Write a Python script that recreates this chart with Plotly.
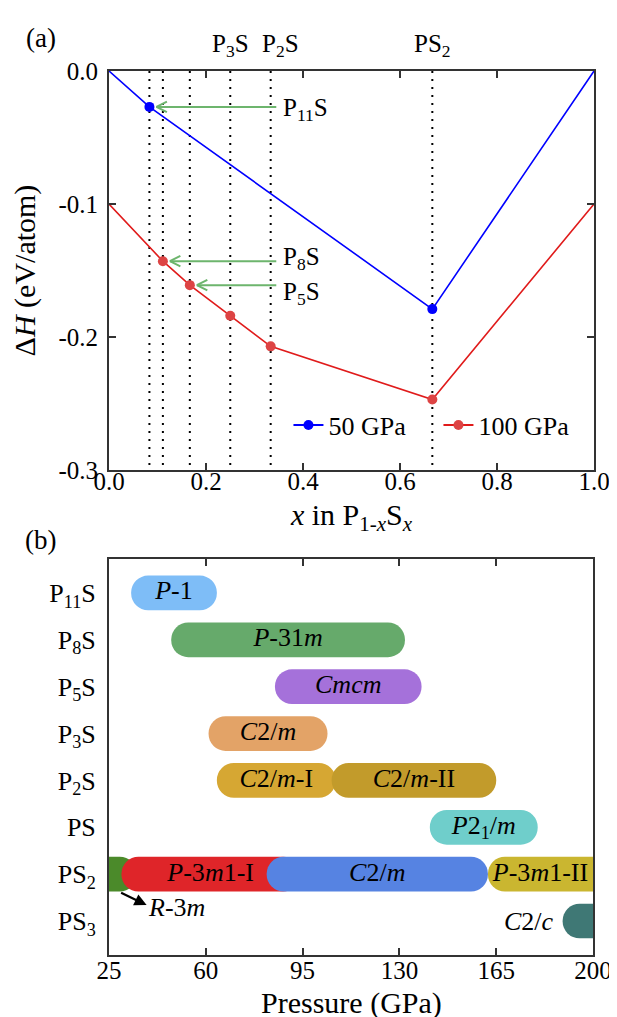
import plotly.graph_objects as go

# ---------------- data: panel (a) ----------------
x_ticks_a = [0.0, 0.2, 0.4, 0.6, 0.8, 1.0]
x_ticktext_a = ["0.0", "0.2", "0.4", "0.6", "0.8", "1.0"]
y_ticks_a = [0.0, -0.1, -0.2, -0.3]
y_ticktext_a = ["0.0", "-0.1", "-0.2", "-0.3"]

x_50 = [0.0, 1/12, 2/3, 1.0]
y_50 = [0.0, -0.027, -0.179, 0.0]
x_50_stable = [1/12, 2/3]
y_50_stable = [-0.027, -0.179]

x_100 = [0.0, 1/9, 1/6, 1/4, 1/3, 2/3, 1.0]
y_100 = [-0.100, -0.143, -0.161, -0.184, -0.207, -0.247, -0.100]
x_100_stable = [1/9, 1/6, 1/4, 1/3, 2/3]
y_100_stable = [-0.143, -0.161, -0.184, -0.207, -0.247]

comp_lines = [1/12, 1/9, 1/6, 1/4, 1/3, 2/3]
top_labels = ["P<sub>3</sub>S", "P<sub>2</sub>S", "PS<sub>2</sub>"]
top_label_x = [1/4, 1/3, 2/3]
top_label_shift = [0, 10, 0]

arrow_labels = ["P<sub>11</sub>S", "P<sub>8</sub>S", "P<sub>5</sub>S"]
arrow_x = [1/12, 1/9, 1/6]
arrow_y = [-0.027, -0.143, -0.161]
arrow_label_shift = [-3, 3, -8]
arrow_tail_x = 0.348

# ---------------- data: panel (b) ----------------
rows = ["P<sub>11</sub>S", "P<sub>8</sub>S", "P<sub>5</sub>S", "P<sub>3</sub>S",
        "P<sub>2</sub>S", "PS", "PS<sub>2</sub>", "PS<sub>3</sub>"]
p_ticks = [25, 60, 95, 130, 165, 200]

phase_row = [0, 1, 2, 3, 4, 4, 5, 6, 6, 6, 6, 7]
phase_start = [33, 47.5, 85, 61, 64, 105.5, 141, 10, 29.5, 82, 162, 189]
phase_end = [64, 132, 138, 104, 107, 165, 180, 35, 94, 162, 215, 215]
phase_color = ["#7ebdf7", "#66aa6b", "#a571da", "#e3a367", "#d6a733", "#c29b2b",
               "#6fcecb", "#4b8a2a", "#df2529", "#5683e2", "#cab630", "#3f7875"]
phase_label = ["<i>P</i>-1", "<i>P</i>-31<i>m</i>", "<i>Cmcm</i>", "<i>C</i>2/<i>m</i>",
               "<i>C</i>2/<i>m</i>-I", "<i>C</i>2/<i>m</i>-II", "<i>P</i>2<sub>1</sub>/<i>m</i>",
               "", "<i>P</i>-3<i>m</i>1-I", "<i>C</i>2/<i>m</i>", "<i>P</i>-3<i>m</i>1-II", ""]

FONT = "Liberation Serif, Times New Roman, Times, serif"
BLUE = "#0000ff"
RED_LINE = "#e01b1b"
RED_MK = "#dd4444"
GREEN_ARROW = "#6db56d"

fig = go.Figure()

# ---- panel (a) lines ----
fig.add_trace(go.Scatter(x=x_50, y=y_50, mode="lines", line=dict(color=BLUE, width=1.6),
                         showlegend=False, xaxis="x", yaxis="y", hoverinfo="skip"))
fig.add_trace(go.Scatter(x=x_100, y=y_100, mode="lines", line=dict(color=RED_LINE, width=1.6),
                         showlegend=False, xaxis="x", yaxis="y", hoverinfo="skip"))
fig.add_trace(go.Scatter(x=x_50_stable, y=y_50_stable, mode="markers",
                         marker=dict(color=BLUE, size=10), showlegend=False, xaxis="x", yaxis="y"))
fig.add_trace(go.Scatter(x=x_100_stable, y=y_100_stable, mode="markers",
                         marker=dict(color=RED_MK, size=10), showlegend=False, xaxis="x", yaxis="y"))
# legend entries
fig.add_trace(go.Scatter(x=[None], y=[None], mode="lines+markers", name="50 GPa",
                         line=dict(color=BLUE, width=2), marker=dict(color=BLUE, size=10),
                         xaxis="x", yaxis="y"))
fig.add_trace(go.Scatter(x=[None], y=[None], mode="lines+markers", name="100 GPa",
                         line=dict(color=RED_LINE, width=2), marker=dict(color=RED_MK, size=10),
                         xaxis="x", yaxis="y"))

# dotted composition lines
for xc in comp_lines:
    fig.add_shape(type="line", xref="x", yref="y", x0=xc, x1=xc, y0=0, y1=-0.3,
                  line=dict(color="black", width=2, dash="2px,6px"), layer="below")

annotations = []
for lab, xl, sh in zip(top_labels, top_label_x, top_label_shift):
    annotations.append(dict(x=xl, y=0, xref="x", yref="y", text=lab, showarrow=False,
                            yanchor="bottom", yshift=8, xshift=sh,
                            font=dict(family=FONT, size=25, color="black")))

for lab, xa, ya, ysh in zip(arrow_labels, arrow_x, arrow_y, arrow_label_shift):
    # shaft
    annotations.append(dict(x=xa, y=ya, xref="x", yref="y", ax=arrow_tail_x, ay=ya,
                            axref="x", ayref="y", text="", showarrow=True, arrowhead=0,
                            arrowwidth=2, arrowcolor=GREEN_ARROW, standoff=7))
    # chevron arms
    for sgn in (-1, 1):
        annotations.append(dict(x=xa, y=ya, xref="x", yref="y", ax=12, ay=6 * sgn,
                                text="", showarrow=True, arrowhead=0, arrowwidth=2,
                                arrowcolor=GREEN_ARROW, xshift=7))
    annotations.append(dict(x=arrow_tail_x + 0.006, y=ya, xref="x", yref="y", text=lab,
                            showarrow=False, xanchor="left", yanchor="middle", yshift=ysh,
                            font=dict(family=FONT, size=25, color="black")))

# ---- panel (b) phase bars (rounded pills) ----
for r, s, e, c in zip(phase_row, phase_start, phase_end, phase_color):
    fig.add_trace(go.Bar(orientation="h", y=[r], x=[e - s], base=[s], width=0.74,
                         marker=dict(color=c, line=dict(width=0), cornerradius="50%"),
                         showlegend=False, xaxis="x2", yaxis="y2", hoverinfo="skip"))

lab_x, lab_y, lab_t = [], [], []
for r, s, e, t in zip(phase_row, phase_start, phase_end, phase_label):
    if t:
        lab_x.append(0.5 * (max(s, 25) + min(e, 200)))
        lab_y.append(r)
        lab_t.append(t)
fig.add_trace(go.Scatter(x=lab_x, y=lab_y, text=lab_t, mode="text",
                         textfont=dict(family=FONT, size=26, color="black"),
                         showlegend=False, xaxis="x2", yaxis="y2", hoverinfo="skip"))

annotations.append(dict(x=186.5, y=7, xref="x2", yref="y2", text="<i>C</i>2/<i>c</i>",
                        showarrow=False, xanchor="right", yanchor="middle",
                        font=dict(family=FONT, size=26, color="black")))
annotations.append(dict(x=38.3, y=6.72, xref="x2", yref="y2", text="<i>R</i>-3<i>m</i>",
                        showarrow=False, xanchor="left", yanchor="middle",
                        font=dict(family=FONT, size=26, color="black")))
annotations.append(dict(x=38.6, y=6.66, xref="x2", yref="y2", ax=-27, ay=-13,
                        text="", showarrow=True, arrowhead=2, arrowsize=1.1, arrowwidth=2.2,
                        arrowcolor="black"))

annotations.append(dict(x=-0.141, y=1.037, xref="paper", yref="paper", text="(a)",
                        xanchor="center", yanchor="middle",
                        showarrow=False, font=dict(family=FONT, size=27, color="black")))
annotations.append(dict(x=-0.141, y=0.4695, xref="paper", yref="paper", text="(b)",
                        xanchor="center", yanchor="middle",
                        showarrow=False, font=dict(family=FONT, size=27, color="black")))
# bottom axis title (placed precisely)
annotations.append(dict(x=0.5, y=-0.054, xref="x2 domain", yref="paper", text="Pressure (GPa)",
                        xanchor="center", yanchor="middle",
                        showarrow=False, font=dict(family=FONT, size=30, color="black")))

axis_common = dict(showline=True, linecolor="#333333", linewidth=2, mirror="allticks",
                   ticks="inside", ticklen=7, tickwidth=1.6, tickcolor="#333333",
                   showgrid=False, zeroline=False,
                   tickfont=dict(family=FONT, size=25, color="black"))

fig.update_layout(
    width=617, height=1017,
    margin=dict(l=101, r=20, t=63, b=70),
    paper_bgcolor="white", plot_bgcolor="white",
    barmode="overlay",
    font=dict(family=FONT, color="black"),
    xaxis=dict(domain=[0, 1], range=[0, 1], tickvals=x_ticks_a, ticktext=x_ticktext_a,
               anchor="y", ticklabelstandoff=-12,
               title=dict(text="<i>x</i> in P<sub>1-<i>x</i></sub>S<sub><i>x</i></sub>",
                          font=dict(family=FONT, size=30), standoff=10),
               **axis_common),
    yaxis=dict(domain=[0.5486, 1], range=[-0.3, 0], tickvals=y_ticks_a, ticktext=y_ticktext_a,
               anchor="x", ticklabelstandoff=4,
               title=dict(text="Δ<i>H</i> (eV/atom)", font=dict(family=FONT, size=30), standoff=16),
               **axis_common),
    xaxis2=dict(domain=[0, 0.998], range=[25, 200], tickvals=p_ticks,
                ticktext=[str(v) for v in p_ticks], anchor="y2", ticklabelstandoff=-8,
                **axis_common),
    yaxis2=dict(domain=[0, 0.448], range=[7.725, -0.725], tickvals=list(range(len(rows))),
                ticktext=rows, anchor="x2", showline=True, linecolor="#333333", linewidth=2,
                mirror=True, ticks="", showgrid=False, zeroline=False, ticklabelstandoff=6,
                tickfont=dict(family=FONT, size=26, color="black")),
    legend=dict(orientation="h", x=0.37, y=0.5995, xanchor="left", yanchor="middle",
                entrywidth=105, bgcolor="rgba(0,0,0,0)",
                font=dict(family=FONT, size=26, color="black")),
    annotations=annotations,
)

fig.write_html("out.html")
